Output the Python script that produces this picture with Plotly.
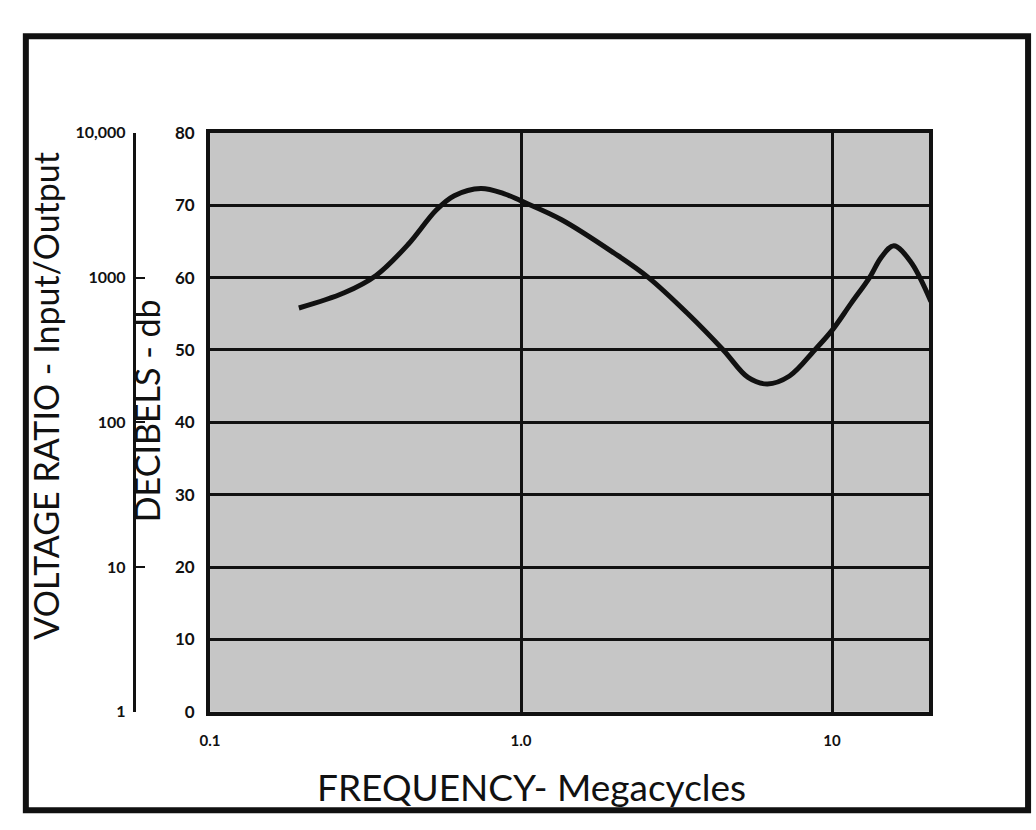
import plotly.graph_objects as go

# Insertion-loss curve: frequency in megacycles vs. attenuation in decibels
freq_mhz = [0.193, 0.27, 0.342, 0.434, 0.533, 0.61, 0.743, 0.88, 1.0, 1.35,
            1.99, 2.57, 3.44, 4.47, 5.37, 6.2, 7.3, 8.8, 10.0, 11.5,
            13.2, 14.4, 15.8, 17.9, 20.8]
gain_db = [55.8, 57.9, 60.3, 64.6, 69.3, 71.3, 72.3, 71.6, 70.6, 68.0,
           63.4, 60.0, 55.0, 50.0, 46.2, 45.3, 46.4, 50.0, 52.7, 56.4,
           60.0, 62.8, 64.4, 62.2, 56.7]

# Axis ticks
freq_ticks = [0.1, 1.0, 10.0]
freq_tick_text = ["0.1", "1.0", "10"]
db_ticks = [0, 10, 20, 30, 40, 50, 60, 70, 80]
ratio_ticks = [1, 10, 100, 1000, 10000]
ratio_tick_text = ["1", "10", "100", "1000", "10,000"]

W, H = 1036, 830
FONT = "Lato"
INK = "#111111"


def px_x(p):
    return p / W


def px_y(p):
    return 1 - p / H


fig = go.Figure()

fig.add_trace(go.Scatter(
    x=freq_mhz, y=gain_db, mode="lines",
    line=dict(color=INK, width=5, shape="spline", smoothing=1.0),
    hoverinfo="skip", showlegend=False,
))

# Same curve expressed as voltage ratio (20·log10) on the outer scale
fig.add_trace(go.Scatter(
    x=freq_mhz, y=[10 ** (d / 20) for d in gain_db], yaxis="y2",
    mode="lines", line=dict(width=0), opacity=0,
    hoverinfo="skip", showlegend=False,
))

plot_left, plot_right, plot_top, plot_bottom = 202, 928, 125, 719

fig.update_layout(
    width=W, height=H,
    margin=dict(l=0, r=0, t=0, b=0),
    paper_bgcolor="white",
    plot_bgcolor="#c6c6c6",
    font=dict(family=FONT, color=INK),
    showlegend=False,
    xaxis=dict(
        type="log", range=[-1, 1.312],
        domain=[px_x(plot_left), px_x(plot_right)],
        tickvals=freq_ticks, ticktext=freq_tick_text,
        ticks="", ticklabelstandoff=12,
        tickfont=dict(size=15, family=FONT, weight=700),
        showgrid=True, gridcolor=INK, gridwidth=2.5,
        showline=True, linecolor=INK, linewidth=4, mirror=True,
        zeroline=False,
    ),
    yaxis=dict(
        range=[0, 80],
        domain=[px_y(plot_bottom), px_y(plot_top)],
        tickvals=db_ticks,
        ticks="", ticklabelstandoff=8,
        tickfont=dict(size=17, family=FONT, weight=700),
        showgrid=True, gridcolor=INK, gridwidth=2.5,
        showline=True, linecolor=INK, linewidth=4, mirror=True,
        zeroline=False,
    ),
    yaxis2=dict(
        type="log", range=[0, 4],
        overlaying="y", side="left", anchor="free", position=px_x(125),
        tickvals=ratio_ticks, ticktext=ratio_tick_text,
        ticks="inside", ticklen=9, tickwidth=2, tickcolor=INK,
        ticklabelstandoff=4,
        tickfont=dict(size=16, family=FONT, weight=700),
        showgrid=False, showline=True, linecolor=INK, linewidth=3,
        zeroline=False,
    ),
)

# Page frame
fig.add_shape(type="rect", xref="paper", yref="paper",
              x0=px_x(16), x1=px_x(1028), y0=px_y(820), y1=px_y(26),
              line=dict(color=INK, width=6), layer="below")

title_kw = dict(xref="paper", yref="paper", showarrow=False,
                xanchor="center", yanchor="middle")
fig.add_annotation(text="FREQUENCY- Megacycles",
                   x=px_x(527), y=px_y(796),
                   font=dict(size=37, family=FONT, color=INK), **title_kw)
fig.add_annotation(text="VOLTAGE RATIO - Input/Output",
                   x=px_x(35), y=px_y(395), textangle=-90,
                   font=dict(size=34, family=FONT, color=INK), **title_kw)
fig.add_annotation(text="DECIBELS - db",
                   x=px_x(138), y=px_y(410), textangle=-90,
                   font=dict(size=34, family=FONT, color=INK), **title_kw)

fig.write_html("out.html")
